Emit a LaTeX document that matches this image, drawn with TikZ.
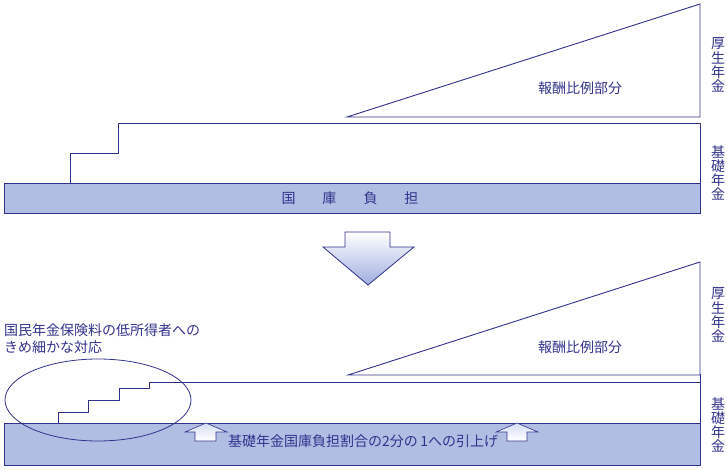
\documentclass[tikz,border=0pt]{standalone}
\usepackage{fontspec}
\newfontfamily\jp{Noto Sans CJK JP}
\definecolor{navy}{RGB}{50,50,140}
\definecolor{barfill}{RGB}{176,190,228}
\definecolor{arrowblue}{RGB}{160,174,224}
\definecolor{arrowlight}{RGB}{214,222,244}
\begin{document}
\begin{tikzpicture}[x=1pt,y=-1pt,
  outline/.style={draw=navy,line width=0.9pt,line join=miter},
  barstyle/.style={draw=navy,line width=0.9pt,fill=barfill},
  lbl/.style={font=\jp\fontsize{14}{14}\selectfont,text=navy,inner sep=0pt},
  vlbl/.style={font=\jp\fontsize{14}{14.2}\selectfont,text=navy,inner sep=0pt,align=center},
  downarrow/.style={draw=navy,line width=0.8pt,top color=white,bottom color=arrowblue},
  uparrow/.style={draw=navy,line width=0.6pt,top color=arrowlight,bottom color=white}]
\useasboundingbox (0,0) rectangle (727,470);
% ---------- upper diagram ----------
\draw[barstyle] (4,183) rectangle (700,213);
\draw[outline] (70,183) -- (70,153) -- (118,153) -- (118,123) -- (700,123) -- (700,183);
\draw[outline] (347,117) -- (700,4) -- (700,117) -- cycle;
\node[lbl] (futan1) at (350,198) {国\hspace{27pt}庫\hspace{27pt}負\hspace{27pt}担};
\node[lbl] (hoshu1) at (580,88) {報酬比例部分};
\node[vlbl] (kosei1) at (718,65) {厚\\生\\年\\金};
\node[vlbl] (kiso1) at (718,173) {基\\礎\\年\\金};
% ---------- transition arrow ----------
\path[downarrow] (345,232) -- (390,232) -- (390,247) -- (414,247) -- (368,285) -- (323,247) -- (345,247) -- cycle;
% ---------- lower diagram ----------
\draw[barstyle] (4,423) rectangle (700,465);
\draw[outline] (58,423) -- (58,412) -- (88,412) -- (88,400) -- (119,400) -- (119,388) -- (149,388) -- (149,382) -- (700,382) -- (700,423);
\draw[outline] (348,375) -- (700,262) -- (700,375) -- cycle;
\draw[outline] (700,374) -- (700,383);
\draw[navy,line width=0.8pt] (98,400) ellipse [x radius=93, y radius=41];
\path[uparrow] (206,423) -- (227,432) -- (216,432) -- (216,441) -- (195,441) -- (195,432) -- (185,432) -- cycle;
\path[uparrow] (517,423) -- (538,432) -- (527,432) -- (527,441) -- (507,441) -- (507,432) -- (496,432) -- cycle;
\node[lbl,anchor=west] (hikiage) at (228,441) {基礎年金国庫負担割合の2分の\,1への引上げ};
\node[lbl] (hoshu2) at (580,347) {報酬比例部分};
\node[lbl,anchor=west] (teishotoku1) at (4,330) {国民年金保険料の低所得者への};
\node[lbl,anchor=west] (teishotoku2) at (4,347) {きめ細かな対応};
\node[vlbl] (kosei2) at (718,315) {厚\\生\\年\\金};
\node[vlbl] (kiso2) at (718,425) {基\\礎\\年\\金};
\end{tikzpicture}
\end{document}
